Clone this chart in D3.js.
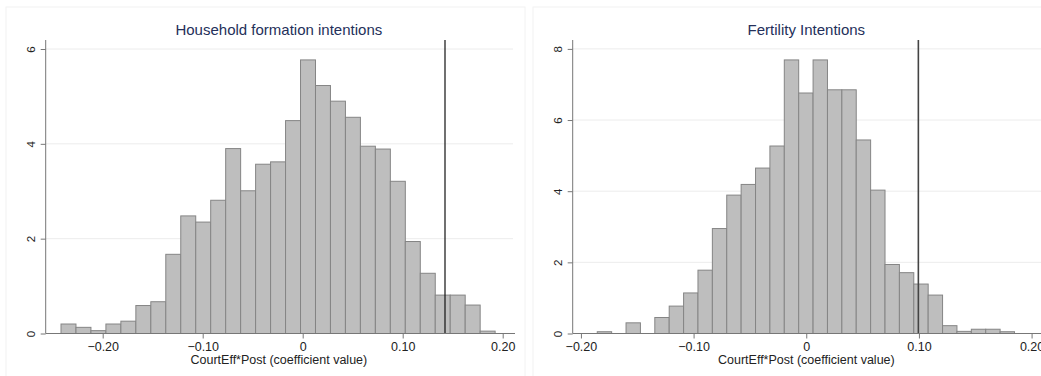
<!DOCTYPE html>
<html>
<head>
<meta charset="utf-8">
<script src="https://cdn.jsdelivr.net/npm/d3@7"></script>
<style>
  body { margin: 0; background: #fff; }
  svg { display: block; font-family: "Liberation Sans", Arial, sans-serif; }
</style>
</head>
<body>
<div id="chart"></div>
<script>
// histogram densities (29 bins each)
const hhTitle = "Household formation intentions";
const hhBinStart = -0.2417;
const hhBinWidth = 0.01497;
const hhDensity = [0.20, 0.13, 0.06, 0.20, 0.26, 0.59, 0.67, 1.67, 2.48, 2.35,
                   2.81, 3.90, 3.01, 3.57, 3.62, 4.49, 5.77, 5.23, 4.90, 4.56,
                   3.95, 3.89, 3.21, 1.94, 1.27, 0.81, 0.81, 0.60, 0.05];
const hhMarker = 0.1423;
const hhYTicks = [0, 2, 4, 6];

const ferTitle = "Fertility Intentions";
const ferBinStart = -0.1855;
const ferBinWidth = 0.01277;
const ferDensity = [0.05, 0, 0.30, 0, 0.45, 0.77, 1.14, 1.78, 2.95, 3.89,
                    4.19, 4.65, 5.27, 7.69, 6.76, 7.69, 6.85, 6.85, 5.44, 4.03,
                    1.94, 1.71, 1.39, 1.08, 0.22, 0.06, 0.12, 0.12, 0.05];
const ferMarker = 0.0995;
const ferYTicks = [0, 2, 4, 6, 8];

const xTicks = [-0.2, -0.1, 0, 0.1, 0.2];
const xLabel = "CourtEff*Post (coefficient value)";

const width = 1041, height = 376;
const svg = d3.select("#chart").append("svg")
  .attr("width", width).attr("height", height);

function fmtX(v) {
  return v === 0 ? "0" : d3.format(".2f")(v);
}

function drawPanel(p) {
  const g = svg.append("g");

  // faint panel frame
  g.append("rect")
    .attr("x", p.frame[0]).attr("y", 7)
    .attr("width", p.frame[1] - p.frame[0]).attr("height", 380)
    .attr("fill", "none").attr("stroke", "#f2f2f2");

  const x = d3.scaleLinear().domain(p.xDomain).range([p.left, p.right]);
  const y = d3.scaleLinear().domain([0, p.yMax]).range([333.5, 40]);

  // gridlines
  g.selectAll("line.grid")
    .data(p.yTicks.filter(d => d > 0))
    .join("line")
    .attr("x1", p.left).attr("x2", p.gridRight)
    .attr("y1", d => y(d)).attr("y2", d => y(d))
    .attr("stroke", "#ececec");

  // bars
  const bins = p.density.map((d, i) => ({
    x0: p.binStart + i * p.binWidth,
    x1: p.binStart + (i + 1) * p.binWidth,
    v: d
  })).filter(b => b.v > 0);

  g.selectAll("rect.bar")
    .data(bins)
    .join("rect")
    .attr("x", d => x(d.x0))
    .attr("width", d => x(d.x1) - x(d.x0))
    .attr("y", d => y(d.v))
    .attr("height", d => y(0) - y(d.v))
    .attr("fill", "#bebebe")
    .attr("stroke", "#858585")
    .attr("stroke-width", 1);

  // reference line
  g.append("line")
    .attr("x1", x(p.marker)).attr("x2", x(p.marker))
    .attr("y1", 40).attr("y2", y(0))
    .attr("stroke", p.markerColor).attr("stroke-width", p.markerWidth);

  // y axis
  const yAxis = g.append("g")
    .attr("transform", `translate(${p.left},0)`)
    .call(d3.axisLeft(y).tickValues(p.yTicks).tickFormat(d3.format("d")).tickSize(5).tickPadding(0));
  yAxis.select(".domain").attr("stroke", "#777").attr("d", `M0,40V${y(0)}`);
  yAxis.selectAll(".tick line").attr("stroke", "#777");
  yAxis.selectAll(".tick text")
    .attr("x", 0).attr("dy", 0)
    .attr("transform", "translate(-15,0) rotate(-90)")
    .attr("text-anchor", "middle")
    .attr("dominant-baseline", "central")
    .attr("fill", "#222")
    .style("font-size", "11.5px");

  // x axis
  const xAxis = g.append("g")
    .attr("transform", `translate(0,${y(0)})`)
    .call(d3.axisBottom(x).tickValues(xTicks).tickFormat(fmtX).tickSize(5).tickPadding(4));
  xAxis.select(".domain").attr("stroke", "#777").attr("d", `M${p.left},0H${p.right}`);
  xAxis.selectAll(".tick line").attr("stroke", "#777");
  xAxis.selectAll(".tick text")
    .attr("fill", "#222")
    .style("font-size", "12.5px");

  // axis title
  g.append("text")
    .attr("x", (p.left + p.titleRight) / 2).attr("y", 364)
    .attr("text-anchor", "middle")
    .attr("fill", "#222")
    .style("font-size", "12.5px")
    .text(xLabel);

  // panel title
  g.append("text")
    .attr("x", (p.left + p.titleRight) / 2).attr("y", 34.5)
    .attr("text-anchor", "middle")
    .attr("fill", "#24305a")
    .style("font-size", "15px")
    .text(p.title);
}

drawPanel({
  title: hhTitle, density: hhDensity, binStart: hhBinStart, binWidth: hhBinWidth,
  marker: hhMarker, markerColor: "#111", markerWidth: 1.2,
  yTicks: hhYTicks, yMax: 6.19,
  xDomain: [-0.257, 0.2123], left: 45.7, right: 515, gridRight: 513, titleRight: 512,
  frame: [6, 525]
});

drawPanel({
  title: ferTitle, density: ferDensity, binStart: ferBinStart, binWidth: ferBinWidth,
  marker: ferMarker, markerColor: "#444", markerWidth: 1.6,
  yTicks: ferYTicks, yMax: 8.25,
  xDomain: [-0.2073, 0.2119], left: 572.7, right: 1045, gridRight: 1041, titleRight: 1040,
  frame: [533, 1060]
});
</script>
</body>
</html>
